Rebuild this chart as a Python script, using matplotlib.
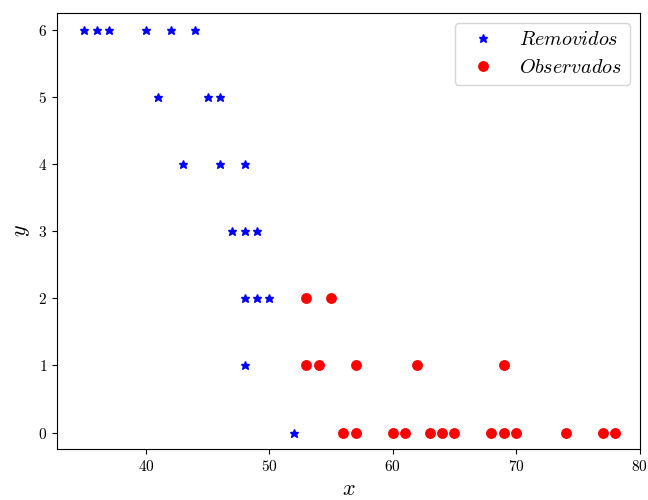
import matplotlib
matplotlib.use("Agg")
import matplotlib.pyplot as plt

plt.rcParams['font.family'] = 'serif'
plt.rcParams['font.serif'] = ['cmr10']
plt.rcParams['mathtext.fontset'] = 'cm'
plt.rcParams['axes.formatter.use_mathtext'] = True

# Removidos (azul)
x_rem = [35, 36, 37, 40, 42, 44, 41, 45, 46, 43, 46, 48, 47, 48, 49, 48, 49, 50, 48, 52]
y_rem = [6, 6, 6, 6, 6, 6, 5, 5, 5, 4, 4, 4, 3, 3, 3, 2, 2, 2, 1, 0]

# Observados (rojo)
x_obs = [53, 55, 53, 54, 57, 62, 69,
         56, 57, 60, 61, 63, 64, 65, 68, 69, 70, 74, 77, 78]
y_obs = [2, 2, 1, 1, 1, 1, 1,
         0, 0, 0, 0, 0, 0, 0, 0, 0, 0, 0, 0, 0]

fig = plt.figure(figsize=(6.48, 5.0), dpi=100)
ax = fig.add_axes([0.088, 0.102, 0.9, 0.872])
ax.plot(x_rem, y_rem, 'b*', markersize=6.3, label=r'$Removidos$')
ax.plot(x_obs, y_obs, 'ro', markersize=6.8, label=r'$Observados$')
ax.set_xlim(32.8, 80.05)
ax.set_ylim(-0.245, 6.25)
ax.set_xlabel(r'$x$', fontsize=16)
ax.set_ylabel(r'$y$', fontsize=16)
ax.tick_params(labelsize=11)
ax.legend(loc='upper right', fontsize=14.5)

fig.savefig('out.png', dpi=100)
